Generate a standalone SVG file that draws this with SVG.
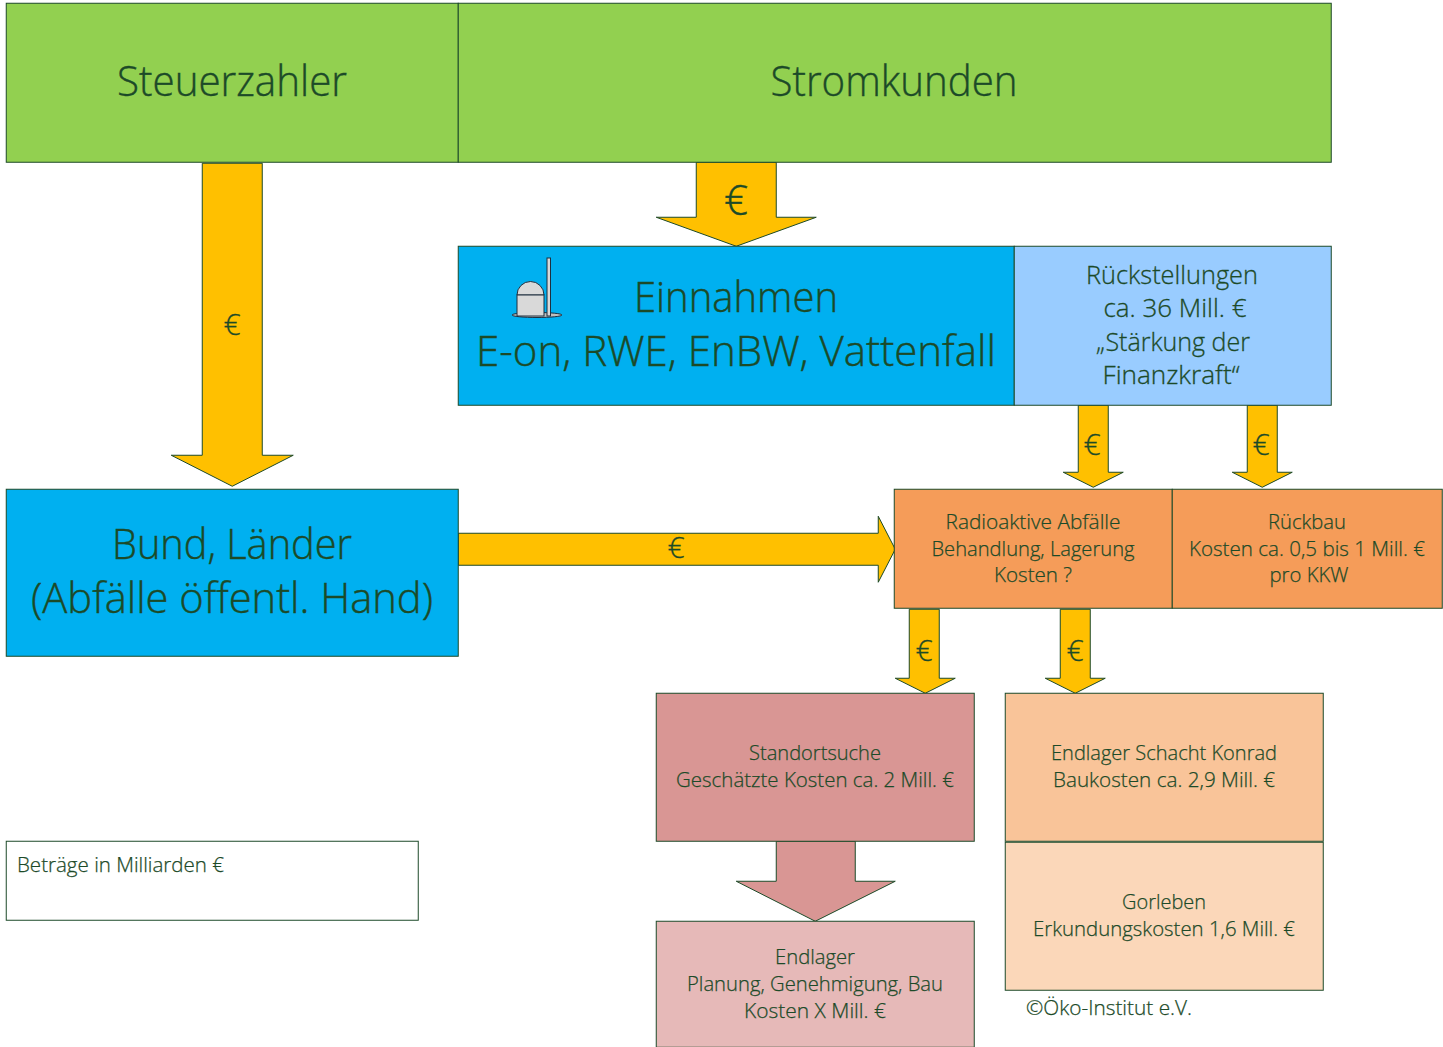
<svg xmlns="http://www.w3.org/2000/svg" width="1443" height="1047" viewBox="0 0 1443 1047">
<style>
.b{stroke:#1c4a28;stroke-width:1;transform:translate(.25px,.25px)}
.a{fill:#ffc000;stroke:#1c4a28;stroke-width:1;transform:translate(.25px,.25px)}
text{font-family:"Open Sans","Noto Sans",sans-serif;fill:#1c4a28;text-anchor:middle;font-weight:400}
.xl{font-size:42px;font-weight:300;stroke:#1c4a28;stroke-width:.4}.l{font-size:30px;font-weight:300;stroke:#1c4a28;stroke-width:.3}.m{font-size:26px;font-weight:300;stroke:#1c4a28;stroke-width:.3}.s{font-size:21px;font-weight:300;stroke:#1c4a28;stroke-width:.25}
.g{fill:#92d050}.bl{fill:#00b0f0}.o{fill:#f59c59}
.st{text-anchor:start}
</style>
<rect width="1443" height="1047" fill="#fff"/>
<g id="connectors">
<path class="a" d="M202 163H262V455H293L232 486L171 455H202Z"/>
<path class="a" d="M696 162H776V217H816L736 246L656 217H696Z"/>
<path class="a" d="M458 533H878V516L895 549L878 582V565H458Z"/>
<path class="a" d="M1078 405H1108V472H1123L1093 487L1063 472H1078Z"/>
<path class="a" d="M1247 405H1277V472H1292L1262 487L1232 472H1247Z"/>
<path class="a" d="M909 609H939V678H955L925 693L895 678H909Z"/>
<path class="a" d="M1060 609H1090V678H1105L1075 693L1045 678H1060Z"/>
<path class="b" fill="#d99694" d="M776 841H855V881H895L815 921L736 881H776Z"/>
<text class="l" x="232" y="335">€</text>
<text class="xl" x="736" y="215">€</text>
<text class="l" x="676" y="558">€</text>
<text class="l" x="1092" y="455">€</text>
<text class="l" x="1261" y="455">€</text>
<text class="l" x="924" y="661">€</text>
<text class="l" x="1075" y="661">€</text>
</g>
<g id="steuerzahler"><rect class="b g" x="6" y="3" width="452" height="159"/><text class="xl" x="232" y="96" textLength="230" lengthAdjust="spacingAndGlyphs">Steuerzahler</text></g>
<g id="stromkunden"><rect class="b g" x="458" y="3" width="873" height="159"/><text class="xl" x="894" y="96" textLength="247" lengthAdjust="spacingAndGlyphs">Stromkunden</text></g>
<g id="einnahmen"><rect class="b bl" x="458" y="246" width="556" height="159"/>
<text class="xl" x="736" y="312" textLength="204" lengthAdjust="spacingAndGlyphs">Einnahmen</text><text class="xl" x="736" y="366" textLength="520" lengthAdjust="spacingAndGlyphs">E-on, RWE, EnBW, Vattenfall</text>
<g id="icon" stroke="#1f2f3f" fill="#d9d9d9"><ellipse cx="537" cy="315" rx="25" ry="2.5" fill="#bfbfbf"/><path d="M517 295A13.5 13.5 0 0 1 544 295Z"/><rect x="517" y="295" width="27" height="21"/><rect x="547" y="258" width="3.500" height="58"/></g></g>
<g id="rueckstellungen"><rect class="b" fill="#99ccff" x="1014" y="246" width="317" height="159"/>
<text class="m" x="1172" y="284" textLength="172" lengthAdjust="spacingAndGlyphs">Rückstellungen</text><text class="m" x="1175" y="317" textLength="143" lengthAdjust="spacingAndGlyphs">ca. 36 Mill. €</text><text class="m" x="1173" y="351" textLength="154" lengthAdjust="spacingAndGlyphs">„Stärkung der</text><text class="m" x="1171" y="384" textLength="137" lengthAdjust="spacingAndGlyphs">Finanzkraft“</text></g>
<g id="bund"><rect class="b bl" x="6" y="489" width="452" height="167"/><text class="xl" x="232" y="559" textLength="240" lengthAdjust="spacingAndGlyphs">Bund, Länder</text><text class="xl" x="232" y="613" textLength="402" lengthAdjust="spacingAndGlyphs">(Abfälle öffentl. Hand)</text></g>
<g id="abfaelle"><rect class="b o" x="894" y="489" width="278" height="119"/>
<text class="s" x="1033" y="529" textLength="175" lengthAdjust="spacingAndGlyphs">Radioaktive Abfälle</text><text class="s" x="1033" y="556" textLength="203" lengthAdjust="spacingAndGlyphs">Behandlung, Lagerung</text><text class="s" x="1033" y="582" textLength="78" lengthAdjust="spacingAndGlyphs">Kosten ?</text></g>
<g id="rueckbau"><rect class="b o" x="1172" y="489" width="270" height="119"/>
<text class="s" x="1307" y="529" textLength="78" lengthAdjust="spacingAndGlyphs">Rückbau</text><text class="s" x="1307" y="556" textLength="236" lengthAdjust="spacingAndGlyphs">Kosten ca. 0,5 bis 1 Mill. €</text><text class="s" x="1309" y="582" textLength="79" lengthAdjust="spacingAndGlyphs">pro KKW</text></g>
<g id="standortsuche"><rect class="b" fill="#d99694" x="656" y="693" width="318" height="148"/>
<text class="s" x="815" y="760" textLength="132" lengthAdjust="spacingAndGlyphs">Standortsuche</text><text class="s" x="815" y="787" textLength="278" lengthAdjust="spacingAndGlyphs">Geschätzte Kosten ca. 2 Mill. €</text></g>
<g id="endlager"><rect class="b" fill="#e6b9b8" x="656" y="921" width="318" height="126"/>
<text class="s" x="815" y="964" textLength="80" lengthAdjust="spacingAndGlyphs">Endlager</text><text class="s" x="815" y="991" textLength="256" lengthAdjust="spacingAndGlyphs">Planung, Genehmigung, Bau</text><text class="s" x="815" y="1018" textLength="142" lengthAdjust="spacingAndGlyphs">Kosten X Mill. €</text></g>
<g id="konrad"><rect class="b" fill="#f9c499" x="1005" y="693" width="318" height="148"/>
<text class="s" x="1164" y="760" textLength="226" lengthAdjust="spacingAndGlyphs">Endlager Schacht Konrad</text><text class="s" x="1164" y="787" textLength="222" lengthAdjust="spacingAndGlyphs">Baukosten ca. 2,9 Mill. €</text></g>
<g id="gorleben"><rect class="b" fill="#fbd7b9" x="1005" y="842" width="318" height="148"/>
<text class="s" x="1164" y="909" textLength="84" lengthAdjust="spacingAndGlyphs">Gorleben</text><text class="s" x="1164" y="936" textLength="262" lengthAdjust="spacingAndGlyphs">Erkundungskosten 1,6 Mill. €</text></g>
<g id="legende"><rect class="b" fill="#fff" x="6" y="841" width="412" height="79"/><text class="s st" x="17" y="872" textLength="207" lengthAdjust="spacingAndGlyphs">Beträge in Milliarden €</text></g>
<g id="copyright"><text class="s st" x="1026" y="1015" textLength="166" lengthAdjust="spacingAndGlyphs">©Öko-Institut e.V.</text></g>
</svg>
